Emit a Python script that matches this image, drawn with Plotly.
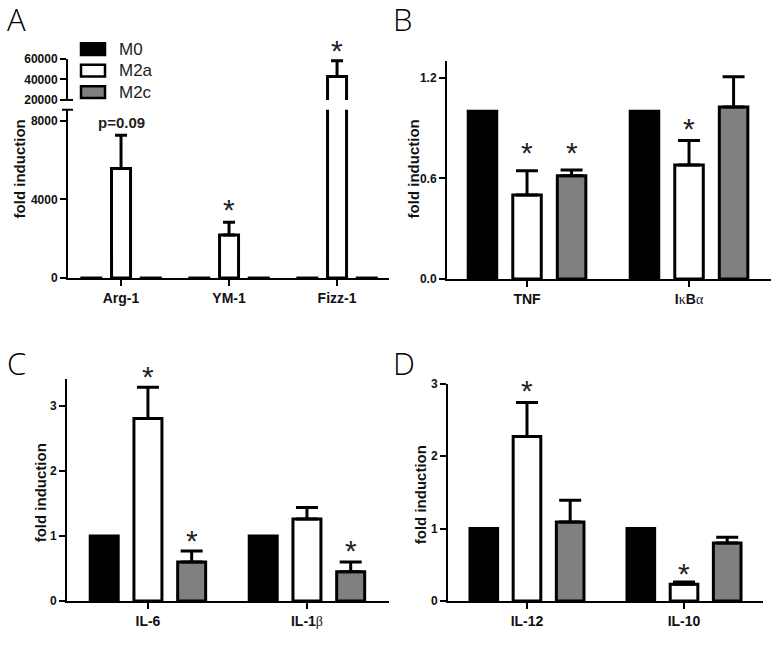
import plotly.graph_objects as go

W, H = 778, 651
FONT = "Liberation Sans, Arial, sans-serif"

series = ["M0", "M2a", "M2c"]
fills = ["#000000", "#ffffff", "#808080"]

# Panel A
genes_A = ["Arg-1", "YM-1", "Fizz-1"]
A_M0 = [1, 1, 1]
A_M2a = [5565, 2190, 42860]
A_M2a_err = [1690, 640, 15240]
A_M2c = [1, 1, 1]
A_upper_ticks = [20000, 40000, 60000]
A_lower_ticks = [0, 4000, 8000]

GREEK = "<span style='font-family:Liberation Serif, serif;font-weight:normal'>%s</span>"

# Panel B
genes_B = ["TNF", "IκBα"]
genes_B_labels = ["TNF", "I" + GREEK % "κ" + "B" + GREEK % "α"]
B_M0 = [1.0, 1.0]
B_M2a = [0.50, 0.68]
B_M2a_err = [0.145, 0.145]
B_M2c = [0.615, 1.025]
B_M2c_err = [0.035, 0.18]
B_ticks = [0, 0.6, 1.2]
B_ticktext = ["0.0", "0.6", "1.2"]

# Panel C
genes_C = ["IL-6", "IL-1β"]
genes_C_labels = ["IL-6", "IL-1" + GREEK % "β"]
C_M0 = [1.0, 1.0]
C_M2a = [2.81, 1.26]
C_M2a_err = [0.48, 0.18]
C_M2c = [0.60, 0.45]
C_M2c_err = [0.17, 0.15]

# Panel D
genes_D = ["IL-12", "IL-10"]
D_M0 = [1.0, 1.0]
D_M2a = [2.27, 0.23]
D_M2a_err = [0.47, 0.03]
D_M2c = [1.09, 0.80]
D_M2c_err = [0.30, 0.08]

SLOT = 0.275  # category units between bar centres in a group

fig = go.Figure()


def add_bars(genes, vals, errs, xa, ya, capw):
    for k, (name, v, e) in enumerate(zip(series, vals, errs)):
        err = None
        if e is not None:
            err = dict(type="data", array=e, arrayminus=[0] * len(v), symmetric=False,
                       color="black", thickness=3, width=capw)
        fig.add_trace(go.Bar(
            x=genes, y=v, name=name, showlegend=False,
            marker=dict(color=fills[k], line=dict(color="black", width=3)),
            error_y=err, xaxis=xa, yaxis=ya,
        ))


add_bars(genes_A, [A_M0, A_M2a, A_M2c], [None, A_M2a_err, None], "x", "y", 6)
add_bars(genes_A, [A_M0, A_M2a, A_M2c], [None, A_M2a_err, None], "x2", "y2", 6)
add_bars(genes_B, [B_M0, B_M2a, B_M2c], [None, B_M2a_err, B_M2c_err], "x3", "y3", 11)
add_bars(genes_C, [C_M0, C_M2a, C_M2c], [None, C_M2a_err, C_M2c_err], "x4", "y4", 11)
add_bars(genes_D, [D_M0, D_M2a, D_M2c], [None, D_M2a_err, D_M2c_err], "x5", "y5", 11)


def px(x):
    return x / W


def py(y):
    return 1 - y / H


axis_common = dict(showline=True, linecolor="black", linewidth=2, ticks="outside",
                   ticklen=6, tickwidth=2, tickcolor="black", showgrid=False,
                   zeroline=False, mirror=False)
xt = dict(tickfont=dict(family=FONT, size=14, color="#111111", weight="bold"))
yt = dict(tickfont=dict(family=FONT, size=12, color="#111111", weight="bold"))

fig.update_layout(
    width=W, height=H, margin=dict(l=0, r=0, t=0, b=0),
    paper_bgcolor="white", plot_bgcolor="rgba(0,0,0,0)",
    barmode="group", bargap=0.175, bargroupgap=0.36,
    showlegend=False,
    xaxis=dict(domain=[px(68), px(389)], anchor="y", range=[-0.491, 2.481], **axis_common, **xt),
    yaxis=dict(domain=[py(277), py(105)], anchor="x", range=[0, 8550],
               tickvals=A_lower_ticks, ticktext=[str(t) for t in A_lower_ticks], **axis_common, **yt),
    xaxis2=dict(domain=[px(68), px(389)], anchor="y2", range=[-0.491, 2.481], matches="x", visible=False),
    yaxis2=dict(domain=[py(95), py(53)], anchor="x2", range=[20000, 60000],
                tickvals=A_upper_ticks, ticktext=[str(t) for t in A_upper_ticks], **axis_common, **yt),
    xaxis3=dict(domain=[px(447), px(771)], anchor="y3", range=[-0.494, 1.506],
                tickvals=genes_B, ticktext=genes_B_labels, **axis_common, **xt),
    yaxis3=dict(domain=[py(278), py(55)], anchor="x3", range=[0, 1.3],
                tickvals=B_ticks, ticktext=B_ticktext, **axis_common, **yt),
    xaxis4=dict(domain=[px(67), px(389)], anchor="y4", range=[-0.509, 1.516],
                tickvals=genes_C, ticktext=genes_C_labels, **axis_common, **xt),
    yaxis4=dict(domain=[py(607), py(380)], anchor="x4", range=[0, 3.42],
                tickvals=[0, 1, 2, 3], **axis_common, **yt),
    xaxis5=dict(domain=[px(448), px(763)], anchor="y5", range=[-0.503, 1.503], **axis_common, **xt),
    yaxis5=dict(domain=[py(607), py(385)], anchor="x5", range=[0, 3],
                tickvals=[0, 1, 2, 3], **axis_common, **yt),
)

ann = []
shapes = []

# panel letters
for letter, x, y in [("A", 5, 12), ("B", 391, 12), ("C", 5, 364), ("D", 391, 364)]:
    ann.append(dict(text=letter, x=px(x), y=py(y), xref="paper", yref="paper",
                    xanchor="left", yanchor="middle", showarrow=False,
                    font=dict(family="Open Sans, sans-serif", size=31, color="black", weight=300)))

# y titles
for x, y in [(19, 166), (413, 166), (40, 497), (420, 499)]:
    ann.append(dict(text="fold induction", x=px(x), y=py(y), xref="paper", yref="paper",
                    textangle=-90, showarrow=False, xanchor="center", yanchor="middle",
                    font=dict(family=FONT, size=15, color="#111111", weight="bold")))

# significance marks: (xref, yref, category index, series index, top value, text, shift)
marks = [
    ("x", "y", 0, 1, A_M2a[0] + A_M2a_err[0], "p=0.09", 13),
    ("x", "y", 1, 1, A_M2a[1] + A_M2a_err[1], "*", 16),
    ("x2", "y2", 2, 1, A_M2a[2] + A_M2a_err[2], "*", 13),
    ("x3", "y3", 0, 1, B_M2a[0] + B_M2a_err[0], "*", 21),
    ("x3", "y3", 0, 2, B_M2c[0] + B_M2c_err[0], "*", 20),
    ("x3", "y3", 1, 1, B_M2a[1] + B_M2a_err[1], "*", 15),
    ("x4", "y4", 0, 1, C_M2a[0] + C_M2a_err[0], "*", 14),
    ("x4", "y4", 0, 2, C_M2c[0] + C_M2c_err[0], "*", 13),
    ("x4", "y4", 1, 2, C_M2c[1] + C_M2c_err[1], "*", 14),
    ("x5", "y5", 0, 1, D_M2a[0] + D_M2a_err[0], "*", 15),
    ("x5", "y5", 1, 1, D_M2a[1] + D_M2a_err[1], "*", 12),
]
for xr, yr, ci, si, top, txt, sh in marks:
    if txt == "*":
        ann.append(dict(text="*", x=ci + (si - 1) * SLOT, y=top, xref=xr, yref=yr,
                        showarrow=False, xanchor="center", yanchor="middle", yshift=sh - 3,
                        font=dict(family=FONT, size=30, color="#222222")))
    else:
        ann.append(dict(text=txt, x=ci + (si - 1) * SLOT, y=top, xref=xr, yref=yr,
                        showarrow=False, xanchor="center", yanchor="middle", yshift=sh,
                        font=dict(family=FONT, size=15, color="#222222", weight="bold")))

# legend (panel A)
for k, (name, yc) in enumerate(zip(series, [43, 65, 87])):
    shapes.append(dict(type="rect", xref="paper", yref="paper",
                       x0=px(81), x1=px(105), y0=py(yc + 6), y1=py(yc - 6),
                       fillcolor=fills[k], line=dict(color="black", width=2.5)))
    ann.append(dict(text=name, x=px(117), y=py(yc), xref="paper", yref="paper",
                    xanchor="left", yanchor="middle", showarrow=False,
                    font=dict(family=FONT, size=17, color="#222222")))

# axis-break caps in panel A
for yb in [105, 95]:
    shapes.append(dict(type="line", xref="paper", yref="paper",
                       x0=px(62), x1=px(73), y0=py(yb), y1=py(yb),
                       line=dict(color="black", width=2)))

fig.update_layout(annotations=ann, shapes=shapes)
fig.write_html("out.html", config={"displayModeBar": False},
               post_script="document.body.style.margin='0px';document.body.style.overflow='hidden';")
